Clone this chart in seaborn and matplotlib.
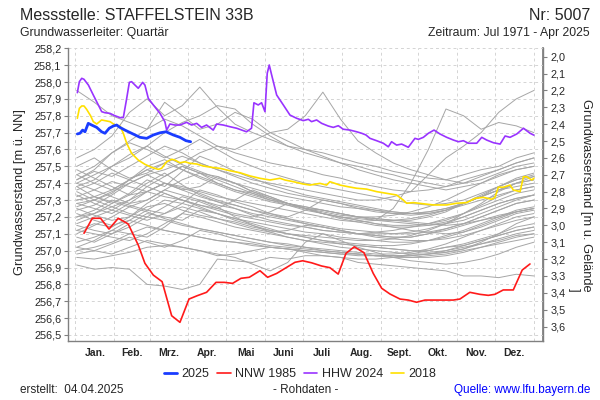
import numpy as np
import pandas as pd
import matplotlib
matplotlib.use("Agg")
import matplotlib.pyplot as plt
import seaborn as sns
from matplotlib.ticker import FuncFormatter, FixedLocator

sns.set_theme(style="white")
plt.rcParams['font.family'] = ['Liberation Sans', 'DejaVu Sans']

# ---------------- data ----------------
MONTHS = ["Jan.", "Feb.", "Mrz.", "Apr.", "Mai", "Juni", "Juli", "Aug.",
          "Sept.", "Okt.", "Nov.", "Dez."]
MONTH_START = [0, 31, 59, 90, 120, 151, 181, 212, 243, 273, 304, 334, 365]
GROUND = 260.15  # Geländehöhe [m ü. NN]

LEFT_TICKS = [256.5, 256.6, 256.7, 256.8, 256.9, 257.0, 257.1, 257.2, 257.3,
              257.4, 257.5, 257.6, 257.7, 257.8, 257.9, 258.0, 258.1, 258.2]
RIGHT_TICKS = [2.0, 2.1, 2.2, 2.3, 2.4, 2.5, 2.6, 2.7, 2.8, 2.9, 3.0, 3.1,
               3.2, 3.3, 3.4, 3.5, 3.6]

# 2025
DAYS_2025 = [1.5, 3.6, 5.7, 7.6, 10.2, 12.9, 16.9, 20.8, 23.5, 26.9, 30.1, 32.8,
             35.4, 39.4, 44.7, 51.4, 56.7, 62.0, 67.3, 72.1, 77.9, 83.2, 88.0, 91.7]
LEVEL_2025 = [257.692, 257.696, 257.715, 257.705, 257.755, 257.745, 257.731,
              257.705, 257.696, 257.726, 257.739, 257.745, 257.731, 257.715,
              257.696, 257.672, 257.666, 257.686, 257.699, 257.705, 257.686,
              257.672, 257.652, 257.646]

# NNW 1985
DAYS_1985 = [6.8, 13.4, 20.0, 26.7, 34.1, 42.0, 50.0, 55.3, 62.0, 69.0, 76.6,
             83.2, 90.4, 97.0, 104.4, 111.9, 118.5, 125.1, 131.8, 138.4, 146.9,
             153.0, 160.2, 168.2, 174.8, 180.9, 188.0, 196.0, 202.6, 209.2,
             215.4, 222.0, 229.7, 237.1, 243.8, 250.4, 258.4, 265.0, 271.6,
             278.3, 284.9, 292.8, 300.8, 306.1, 314.0, 322.0, 328.7, 334.0,
             340.6, 348.6, 355.7, 361.9]
LEVEL_1985 = [257.103, 257.192, 257.192, 257.128, 257.192, 257.158, 257.033,
              256.925, 256.855, 256.816, 256.614, 256.575, 256.713, 256.733,
              256.753, 256.812, 256.812, 256.806, 256.836, 256.842, 256.881,
              256.842, 256.865, 256.901, 256.931, 256.940, 256.928, 256.909,
              256.899, 256.861, 256.984, 257.023, 256.988, 256.865, 256.777,
              256.743, 256.713, 256.707, 256.694, 256.707, 256.707, 256.707,
              256.707, 256.713, 256.753, 256.741, 256.735, 256.741, 256.767,
              256.767, 256.885, 256.921]

# HHW 2024
DAYS_2024 = [1.5, 3.1, 5.0, 6.8, 10.3, 14.2, 18.2, 20.9, 23.5, 27.5, 31.5, 35.5,
             38.1, 40.8, 42.9, 44.7, 47.4, 50.0, 53.5, 55.3, 58.0, 62.0, 67.3,
             71.2, 72.6, 75.2, 79.2, 83.2, 88.5, 92.5, 96.5, 100.4, 104.4, 109.7,
             112.4, 117.7, 123.0, 128.3, 136.2, 140.2, 142.1, 145.5, 148.2,
             150.9, 152.7, 154.3, 156.2, 160.2, 165.5, 170.8, 176.1, 181.4,
             185.4, 188.0, 192.0, 196.0, 201.3, 205.3, 209.3, 213.2, 218.6,
             223.9, 227.9, 231.3, 234.5, 239.8, 245.1, 249.1, 251.7, 255.7,
             259.7, 265.0, 270.3, 273.0, 277.0, 281.0, 285.5, 290.2, 295.6,
             300.9, 304.9, 308.9, 312.8, 319.5, 323.5, 327.4, 332.8, 338.1,
             342.1, 346.0, 351.4, 356.7, 359.3, 362.0, 365.0]
LEVEL_2024 = [257.937, 258.002, 258.022, 258.016, 257.982, 257.923, 257.864,
              257.824, 257.818, 257.814, 257.800, 257.789, 257.789, 257.903,
              257.998, 258.002, 257.982, 257.963, 257.998, 257.982, 257.903,
              257.864, 257.814, 257.765, 257.715, 257.751, 257.745, 257.745,
              257.761, 257.745, 257.755, 257.731, 257.745, 257.715, 257.751,
              257.745, 257.735, 257.726, 257.705, 257.726, 257.877, 257.864,
              257.877, 257.824, 258.052, 258.101, 258.042, 257.923, 257.864,
              257.804, 257.785, 257.771, 257.779, 257.765, 257.775, 257.755,
              257.739, 257.731, 257.741, 257.720, 257.715, 257.705, 257.696,
              257.686, 257.666, 257.652, 257.637, 257.616, 257.646, 257.626,
              257.632, 257.613, 257.666, 257.660, 257.672, 257.696, 257.715,
              257.692, 257.672, 257.656, 257.646, 257.652, 257.637, 257.637,
              257.672, 257.656, 257.640, 257.632, 257.680, 257.672, 257.692,
              257.726, 257.711, 257.696, 257.685]

# 2018
DAYS_2018 = [1.5, 3.1, 5.0, 6.8, 8.9, 12.1, 14.2, 16.9, 20.8, 23.5, 27.5, 31.5,
             35.5, 38.1, 40.8, 44.7, 50.0, 55.3, 60.6, 65.9, 68.6, 72.6, 76.6,
             79.2, 83.2, 87.2, 91.2, 96.5, 101.8, 108.4, 115.1, 123.0, 131.0,
             139.0, 146.9, 154.9, 162.8, 166.8, 173.5, 181.4, 186.7, 194.7,
             200.0, 202.6, 206.6, 210.6, 217.2, 223.9, 231.8, 239.8, 247.7,
             255.7, 261.0, 263.7, 269.0, 277.0, 285.0, 295.6, 303.5, 311.5,
             318.1, 324.8, 331.4, 334.0, 336.7, 340.6, 346.0, 348.6, 354.0,
             356.7, 359.3, 363.3, 365.0]
LEVEL_2018 = [257.785, 257.844, 257.858, 257.858, 257.838, 257.799, 257.765,
              257.751, 257.775, 257.771, 257.765, 257.745, 257.739, 257.696,
              257.637, 257.577, 257.537, 257.512, 257.494, 257.482, 257.488,
              257.527, 257.542, 257.537, 257.521, 257.527, 257.518, 257.514,
              257.502, 257.494, 257.488, 257.474, 257.462, 257.443, 257.429,
              257.419, 257.429, 257.419, 257.409, 257.395, 257.389, 257.399,
              257.389, 257.409, 257.399, 257.389, 257.379, 257.370, 257.365,
              257.350, 257.340, 257.330, 257.300, 257.281, 257.285, 257.278,
              257.271, 257.271, 257.281, 257.285, 257.310, 257.316, 257.305,
              257.316, 257.376, 257.376, 257.389, 257.360, 257.350, 257.438,
              257.438, 257.419, 257.429]

# other years of the series (grey), sampled every two weeks
GREY_DAYS = [1, 15, 29, 43, 57, 71, 85, 99, 113, 127, 141, 155, 169, 183, 197,
             211, 225, 239, 253, 267, 281, 295, 309, 323, 337, 351, 365]
GREY_UPPER = [
    [257.95, 257.88, 257.80, 257.76, 257.72, 257.78, 257.74, 257.68, 257.62, 257.58, 257.55, 257.52, 257.50, 257.48, 257.45, 257.43, 257.40, 257.38, 257.36, 257.35, 257.36, 257.38, 257.42, 257.45, 257.48, 257.52, 257.55],
    [257.55, 257.60, 257.68, 257.82, 257.90, 257.80, 257.86, 257.97, 257.85, 257.75, 257.70, 257.66, 257.62, 257.60, 257.58, 257.55, 257.52, 257.50, 257.47, 257.45, 257.43, 257.42, 257.45, 257.48, 257.50, 257.55, 257.58],
    [257.42, 257.48, 257.58, 257.65, 257.72, 257.88, 257.80, 257.72, 257.75, 257.82, 257.78, 257.70, 257.65, 257.60, 257.56, 257.52, 257.48, 257.45, 257.42, 257.40, 257.38, 257.36, 257.38, 257.40, 257.44, 257.48, 257.50],
    [257.28, 257.30, 257.35, 257.40, 257.45, 257.48, 257.52, 257.58, 257.62, 257.60, 257.65, 257.70, 257.72, 257.80, 257.94, 257.78, 257.65, 257.58, 257.52, 257.48, 257.45, 257.42, 257.40, 257.42, 257.46, 257.50, 257.52],
    [257.20, 257.22, 257.26, 257.30, 257.35, 257.40, 257.38, 257.35, 257.32, 257.30, 257.28, 257.26, 257.24, 257.22, 257.20, 257.18, 257.17, 257.18, 257.25, 257.40, 257.60, 257.84, 257.80, 257.72, 257.76, 257.74, 257.70],
    [257.30, 257.32, 257.36, 257.42, 257.48, 257.52, 257.56, 257.52, 257.48, 257.45, 257.42, 257.40, 257.38, 257.36, 257.34, 257.32, 257.30, 257.30, 257.32, 257.35, 257.45, 257.55, 257.62, 257.70, 257.82, 257.90, 257.95],
    [257.38, 257.42, 257.50, 257.55, 257.62, 257.70, 257.76, 257.80, 257.86, 257.84, 257.75, 257.68, 257.62, 257.58, 257.55, 257.52, 257.50, 257.47, 257.45, 257.42, 257.40, 257.38, 257.40, 257.44, 257.48, 257.52, 257.55],
]
GREY_MIDDLE = [
    [257.45, 257.40, 257.36, 257.42, 257.48, 257.44, 257.50, 257.46, 257.40, 257.36, 257.34, 257.30, 257.28, 257.25, 257.24, 257.22, 257.20, 257.18, 257.17, 257.16, 257.15, 257.16, 257.18, 257.22, 257.26, 257.30, 257.33],
    [257.40, 257.36, 257.32, 257.28, 257.30, 257.36, 257.42, 257.46, 257.44, 257.40, 257.35, 257.32, 257.28, 257.26, 257.24, 257.22, 257.20, 257.19, 257.18, 257.17, 257.16, 257.15, 257.16, 257.18, 257.20, 257.24, 257.26],
    [257.35, 257.30, 257.34, 257.42, 257.50, 257.54, 257.48, 257.44, 257.40, 257.36, 257.33, 257.30, 257.27, 257.24, 257.22, 257.20, 257.18, 257.16, 257.14, 257.12, 257.11, 257.10, 257.11, 257.14, 257.18, 257.22, 257.24],
    [257.30, 257.32, 257.29, 257.26, 257.30, 257.36, 257.33, 257.30, 257.27, 257.25, 257.22, 257.20, 257.18, 257.16, 257.14, 257.12, 257.10, 257.09, 257.08, 257.08, 257.10, 257.13, 257.16, 257.20, 257.24, 257.28, 257.30],
    [257.25, 257.21, 257.18, 257.20, 257.26, 257.28, 257.24, 257.21, 257.19, 257.17, 257.14, 257.12, 257.10, 257.08, 257.06, 257.04, 257.03, 257.02, 257.01, 257.00, 257.00, 257.02, 257.04, 257.07, 257.10, 257.14, 257.16],
    [257.42, 257.47, 257.44, 257.50, 257.56, 257.62, 257.58, 257.52, 257.48, 257.44, 257.40, 257.37, 257.34, 257.32, 257.30, 257.28, 257.26, 257.24, 257.22, 257.21, 257.22, 257.24, 257.28, 257.32, 257.38, 257.43, 257.46],
    [257.20, 257.24, 257.30, 257.27, 257.24, 257.22, 257.28, 257.36, 257.33, 257.29, 257.26, 257.22, 257.19, 257.16, 257.14, 257.12, 257.10, 257.08, 257.07, 257.06, 257.06, 257.07, 257.09, 257.12, 257.15, 257.18, 257.20],
    [257.15, 257.12, 257.10, 257.14, 257.20, 257.18, 257.15, 257.13, 257.11, 257.09, 257.07, 257.05, 257.03, 257.02, 257.00, 256.99, 256.98, 256.97, 256.97, 256.97, 256.98, 257.00, 257.03, 257.06, 257.09, 257.12, 257.14],
    [257.38, 257.32, 257.28, 257.34, 257.42, 257.38, 257.47, 257.56, 257.52, 257.47, 257.43, 257.39, 257.36, 257.33, 257.31, 257.29, 257.27, 257.25, 257.23, 257.22, 257.22, 257.24, 257.27, 257.30, 257.33, 257.36, 257.38],
    [257.10, 257.15, 257.20, 257.26, 257.23, 257.19, 257.16, 257.13, 257.11, 257.09, 257.07, 257.05, 257.04, 257.02, 257.01, 257.00, 256.99, 256.98, 256.98, 256.99, 257.01, 257.04, 257.08, 257.12, 257.16, 257.20, 257.22],
    [257.32, 257.36, 257.41, 257.38, 257.35, 257.32, 257.30, 257.27, 257.25, 257.30, 257.36, 257.32, 257.28, 257.25, 257.22, 257.20, 257.19, 257.18, 257.18, 257.19, 257.21, 257.24, 257.28, 257.32, 257.36, 257.38, 257.40],
    [257.05, 257.08, 257.12, 257.18, 257.15, 257.12, 257.10, 257.08, 257.06, 257.05, 257.04, 257.02, 257.01, 257.00, 256.99, 256.98, 256.98, 256.97, 256.97, 256.97, 256.98, 256.99, 257.01, 257.04, 257.07, 257.10, 257.12],
    [257.28, 257.25, 257.22, 257.28, 257.35, 257.40, 257.37, 257.34, 257.30, 257.27, 257.24, 257.21, 257.19, 257.17, 257.15, 257.13, 257.12, 257.11, 257.10, 257.10, 257.11, 257.13, 257.16, 257.20, 257.24, 257.28, 257.30],
    [257.18, 257.22, 257.28, 257.33, 257.40, 257.46, 257.39, 257.33, 257.29, 257.25, 257.21, 257.18, 257.16, 257.14, 257.12, 257.11, 257.10, 257.11, 257.12, 257.14, 257.16, 257.19, 257.22, 257.26, 257.30, 257.34, 257.36],
    [257.48, 257.43, 257.38, 257.33, 257.35, 257.40, 257.36, 257.32, 257.29, 257.27, 257.24, 257.22, 257.20, 257.24, 257.30, 257.28, 257.25, 257.23, 257.22, 257.22, 257.23, 257.25, 257.28, 257.32, 257.36, 257.40, 257.42],
    [257.12, 257.10, 257.08, 257.06, 257.10, 257.16, 257.22, 257.20, 257.17, 257.14, 257.12, 257.10, 257.08, 257.06, 257.05, 257.04, 257.03, 257.02, 257.01, 257.00, 256.99, 257.00, 257.02, 257.04, 257.06, 257.09, 257.10],
    [257.36, 257.40, 257.46, 257.42, 257.38, 257.44, 257.50, 257.46, 257.42, 257.38, 257.34, 257.31, 257.28, 257.26, 257.24, 257.22, 257.20, 257.19, 257.18, 257.18, 257.20, 257.23, 257.28, 257.33, 257.38, 257.42, 257.44],
    [257.22, 257.18, 257.15, 257.18, 257.24, 257.30, 257.28, 257.25, 257.22, 257.19, 257.17, 257.15, 257.13, 257.11, 257.10, 257.08, 257.07, 257.06, 257.05, 257.05, 257.06, 257.08, 257.11, 257.15, 257.19, 257.23, 257.25],
    [257.00, 257.02, 257.05, 257.10, 257.14, 257.12, 257.10, 257.08, 257.06, 257.05, 257.03, 257.02, 257.01, 257.00, 256.99, 256.98, 256.97, 256.97, 256.96, 256.96, 256.97, 256.98, 257.00, 257.02, 257.04, 257.06, 257.08],
    [257.40, 257.45, 257.50, 257.57, 257.62, 257.56, 257.51, 257.47, 257.43, 257.40, 257.37, 257.34, 257.32, 257.30, 257.28, 257.26, 257.25, 257.24, 257.23, 257.22, 257.23, 257.25, 257.28, 257.32, 257.36, 257.40, 257.42],
    [257.26, 257.30, 257.26, 257.22, 257.20, 257.26, 257.32, 257.29, 257.25, 257.22, 257.20, 257.23, 257.28, 257.25, 257.22, 257.19, 257.17, 257.15, 257.14, 257.14, 257.15, 257.17, 257.20, 257.24, 257.28, 257.31, 257.33],
    [257.08, 257.05, 257.10, 257.16, 257.22, 257.20, 257.18, 257.24, 257.22, 257.19, 257.16, 257.13, 257.10, 257.08, 257.06, 257.05, 257.04, 257.03, 257.03, 257.04, 257.06, 257.09, 257.12, 257.16, 257.20, 257.23, 257.25],
    [257.33, 257.28, 257.24, 257.30, 257.38, 257.34, 257.30, 257.27, 257.24, 257.21, 257.19, 257.17, 257.15, 257.14, 257.12, 257.11, 257.10, 257.10, 257.10, 257.11, 257.13, 257.16, 257.20, 257.24, 257.28, 257.31, 257.33],
    [257.16, 257.20, 257.24, 257.21, 257.18, 257.22, 257.26, 257.23, 257.19, 257.16, 257.13, 257.11, 257.12, 257.15, 257.14, 257.12, 257.10, 257.09, 257.08, 257.08, 257.10, 257.12, 257.15, 257.18, 257.21, 257.23, 257.25],
    [257.50, 257.55, 257.48, 257.43, 257.46, 257.52, 257.48, 257.43, 257.39, 257.35, 257.32, 257.29, 257.27, 257.25, 257.23, 257.21, 257.20, 257.20, 257.21, 257.23, 257.26, 257.30, 257.35, 257.40, 257.45, 257.48, 257.50],
    [257.02, 257.06, 257.12, 257.10, 257.08, 257.14, 257.22, 257.30, 257.26, 257.20, 257.15, 257.11, 257.08, 257.06, 257.04, 257.02, 257.01, 257.00, 256.99, 256.98, 256.98, 256.99, 257.01, 257.05, 257.10, 257.16, 257.20],
    [257.24, 257.27, 257.33, 257.40, 257.45, 257.40, 257.36, 257.38, 257.44, 257.40, 257.35, 257.31, 257.28, 257.25, 257.22, 257.20, 257.18, 257.16, 257.15, 257.15, 257.16, 257.18, 257.22, 257.27, 257.32, 257.36, 257.38],
    [257.12, 257.16, 257.14, 257.20, 257.28, 257.34, 257.30, 257.26, 257.22, 257.18, 257.15, 257.12, 257.10, 257.09, 257.08, 257.07, 257.06, 257.06, 257.07, 257.09, 257.12, 257.16, 257.22, 257.28, 257.35, 257.40, 257.44],
    [257.45, 257.50, 257.58, 257.64, 257.60, 257.55, 257.60, 257.66, 257.60, 257.54, 257.50, 257.46, 257.43, 257.40, 257.38, 257.36, 257.34, 257.32, 257.30, 257.28, 257.27, 257.28, 257.30, 257.34, 257.38, 257.42, 257.45],
    [256.98, 257.00, 257.04, 257.08, 257.05, 257.02, 257.06, 257.12, 257.10, 257.07, 257.05, 257.03, 257.02, 257.01, 257.00, 256.99, 256.98, 256.97, 256.97, 256.96, 256.96, 256.97, 256.99, 257.02, 257.05, 257.08, 257.10],
]
GREY_LOWER = [
    [256.96, 256.95, 256.97, 256.99, 257.02, 257.03, 257.02, 257.00, 256.97, 256.98, 257.00, 257.02, 257.01, 256.99, 256.97, 256.96, 256.95, 256.95, 256.96, 256.98, 257.00, 257.02, 257.03, 257.06, 257.09, 257.12, 257.14],
    [256.915, 256.89, 256.90, 256.89, 256.80, 256.79, 256.77, 256.80, 256.95, 256.94, 256.93, 256.96, 256.95, 256.97, 256.97, 256.96, 256.93, 256.92, 256.91, 256.90, 256.89, 256.88, 256.85, 256.85, 256.84, 256.86, 256.85],
    [257.02, 257.00, 256.98, 257.02, 257.06, 257.04, 257.02, 257.00, 256.98, 256.96, 256.92, 256.88, 256.93, 257.05, 257.10, 257.06, 257.02, 256.99, 256.96, 256.94, 256.93, 256.92, 256.93, 256.95, 256.98, 257.02, 257.05],
]

# ---------------- figure ----------------
fig = plt.figure(figsize=(6, 4), dpi=100)
fig.patch.set_facecolor("white")
ax = fig.add_axes([68.3 / 600, 1 - 340.7 / 400, 475 / 600, 292.4 / 400])
ax.set_facecolor("white")

rows = []
for i, vals in enumerate(GREY_UPPER + GREY_MIDDLE + GREY_LOWER):
    for d, v in zip(GREY_DAYS, vals):
        rows.append((i, d, v))
grey = pd.DataFrame(rows, columns=["line", "day", "level"])
sns.lineplot(data=grey, x="day", y="level", units="line", estimator=None,
             color="#a6a6a6", lw=0.7, ax=ax, legend=False)

sns.lineplot(x=DAYS_2018, y=LEVEL_2018, color="#ffe000", lw=1.2, ax=ax,
             label="2018", sort=False)
sns.lineplot(x=DAYS_2024, y=LEVEL_2024, color="#9933ff", lw=1.2, ax=ax,
             label="HHW 2024", sort=False)
sns.lineplot(x=DAYS_1985, y=LEVEL_1985, color="#ff1a1a", lw=1.2, ax=ax,
             label="NNW 1985", sort=False)
sns.lineplot(x=DAYS_2025, y=LEVEL_2025, color="#1a3cff", lw=2.0, ax=ax,
             label="2025", sort=False)

ax.set_xlim(-5.7, 372.5)
ax.set_ylim(256.466, 258.2)
ax.set_xlabel("")
ax.set_ylabel("")

# axes, ticks, grid
ax.xaxis.set_major_locator(FixedLocator(MONTH_START))
ax.xaxis.set_major_formatter(FuncFormatter(lambda v, p: ""))
mid = [(MONTH_START[i] + MONTH_START[i + 1]) / 2 for i in range(12)]
ax.xaxis.set_minor_locator(FixedLocator(mid))
ax.xaxis.set_minor_formatter(FuncFormatter(lambda v, p: MONTHS[mid.index(v)] if v in mid else ""))
ax.yaxis.set_major_locator(FixedLocator(LEFT_TICKS))
ax.yaxis.set_major_formatter(FuncFormatter(lambda v, p: f"{v:.1f}".replace(".", ",")))
ax.grid(True, which="major", color="#d4d4d4", linestyle=(0, (3, 3)), lw=0.7)
ax.set_axisbelow(True)

ax.tick_params(axis="x", which="major", length=3.5, color="#808080", width=0.8, direction="out")
ax.tick_params(axis="x", which="minor", length=0, pad=5, labelsize=7.5)
for lab in ax.get_xticklabels(minor=True):
    lab.set_fontweight("bold")
ax.tick_params(axis="y", which="major", length=3, color="#808080", width=0.8,
               direction="out", pad=2, labelsize=7.8, left=True)

for s in ["left", "bottom", "right"]:
    ax.spines[s].set_color("#808080")
    ax.spines[s].set_linewidth(1.0)
ax.spines["top"].set_visible(False)

sec = ax.secondary_yaxis("right", functions=(lambda h: GROUND - h, lambda d: GROUND - d))
sec.yaxis.set_major_locator(FixedLocator(RIGHT_TICKS))
sec.yaxis.set_major_formatter(FuncFormatter(lambda v, p: f"{v:.1f}".replace(".", ",")))
sec.tick_params(axis="y", length=3, color="#808080", width=0.8, direction="out",
                pad=2, labelsize=7.8)
sec.spines["right"].set_color("#808080")

# legend
h, l = ax.get_legend_handles_labels()
order = ["2025", "NNW 1985", "HHW 2024", "2018"]
hh = [h[l.index(o)] for o in order]
ax.get_legend().remove()
fig.legend(hh, order, loc="center", bbox_to_anchor=(0.5, 1 - 374 / 400), ncol=4,
           frameon=False, fontsize=9, handlelength=1.1, columnspacing=0.6,
           handletextpad=0.35)

# texts
fig.text(20 / 600, 1 - 15 / 400, "Messstelle: STAFFELSTEIN 33B", fontsize=11.5,
         ha="left", va="center")
fig.text(590 / 600, 1 - 15 / 400, "Nr: 5007", fontsize=11.5, ha="right", va="center")
fig.text(20 / 600, 1 - 33 / 400, "Grundwasserleiter: Quartär", fontsize=8.8,
         ha="left", va="center")
fig.text(590 / 600, 1 - 33 / 400, "Zeitraum: Jul 1971 - Apr 2025", fontsize=8.8,
         ha="right", va="center")
fig.text(20 / 600, 1 - 192 / 400, "Grundwasserstand [m ü. NN]", fontsize=9.3,
         rotation=90, ha="center", va="center")
fig.text(580 / 600, 1 - 195 / 400, "Grundwasserstand [m u. Gelände\n]", fontsize=9.3,
         rotation=-90, ha="center", va="center", multialignment="right",
         linespacing=1.0)
fig.text(20 / 600, 1 - 390 / 400, "erstellt:  04.04.2025", fontsize=8.5,
         ha="left", va="center")
fig.text(0.51, 1 - 390 / 400, "- Rohdaten -", fontsize=8.5, ha="center", va="center")
fig.text(590 / 600, 1 - 390 / 400, "Quelle: www.lfu.bayern.de", fontsize=8.5,
         ha="right", va="center", color="#0000ff")

fig.savefig("out.png", dpi=100, facecolor="white")
